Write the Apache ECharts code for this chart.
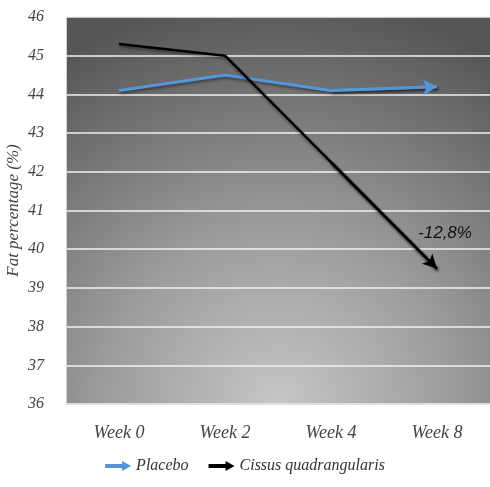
<!DOCTYPE html>
<html><head><meta charset="utf-8">
<script src="https://cdn.jsdelivr.net/npm/echarts@6/dist/echarts.min.js"></script>
<style>html,body{margin:0;padding:0;background:#fff}#c{width:490px;height:487px}</style>
</head><body><div id="c"></div>
<script>
const categories = ['Week 0', 'Week 2', 'Week 4', 'Week 8'];
const placebo = [44.1, 44.5, 44.1, 44.2];
const cissus = [45.3, 45.0, 42.25, 39.5];
const seriesNames = ['Placebo', 'Cissus quadrangularis'];
const annotationText = '-12,8%';
const annotationValue = 40.42;
const yMin = 36, yMax = 46, yStep = 1;

const FONT = '"Liberation Serif", serif';
const arrowIcon = 'path://M0,3 L17,3 L17,0 L26,5 L17,10 L17,7 L0,7 Z';
const chart = echarts.init(document.getElementById('c'));
const shadow = {shadowBlur: 3, shadowColor: 'rgba(0,0,0,0.45)', shadowOffsetX: 1, shadowOffsetY: 2};

function lastSegment(vals) {
  const n = vals.length;
  return [[{coord: [categories[n-2], vals[n-2]]}, {coord: [categories[n-1], vals[n-1]]}]];
}

chart.setOption({
  animation: false,
  grid: {left: 66, right: 0, top: 17, bottom: 83, show: true, borderWidth: 0,
    outerBoundsMode: 'none', containLabel: false,
    backgroundColor: {type: 'radial', x: 0.5, y: 1.0, r: 1.05,
      colorStops: [{offset: 0, color: '#c6c6c6'}, {offset: 0.45, color: '#9a9a9a'}, {offset: 1, color: '#565656'}]}},
  legend: {bottom: 8, left: 'center', itemGap: 20, itemWidth: 26, itemHeight: 10,
    textStyle: {fontFamily: FONT, fontStyle: 'italic', fontSize: 16, color: '#333'},
    data: [{name: seriesNames[0], icon: arrowIcon}, {name: seriesNames[1], icon: arrowIcon}]},
  xAxis: {type: 'category', data: categories, boundaryGap: true,
    axisLine: {show: true, lineStyle: {color: '#dcdcdc', width: 1.5}},
    axisTick: {show: false},
    axisLabel: {margin: 20, fontFamily: FONT, fontStyle: 'italic', fontSize: 18, color: '#444'}},
  yAxis: {type: 'value', min: yMin, max: yMax, interval: yStep,
    name: 'Fat percentage (%)', nameLocation: 'middle', nameGap: 44, nameMoveOverlap: false,
    nameTextStyle: {fontFamily: FONT, fontStyle: 'italic', fontSize: 17, color: '#444'},
    axisLine: {show: true, lineStyle: {color: '#d0d0d0', width: 1}},
    axisTick: {show: false},
    axisLabel: {margin: 22, fontFamily: FONT, fontStyle: 'italic', fontSize: 16, color: '#444'},
    splitLine: {lineStyle: {color: '#f2f2f2', width: 1.5}}},
  series: [
    {name: seriesNames[0], type: 'line', data: placebo, showSymbol: false, color: '#5596d8',
      lineStyle: Object.assign({width: 3, color: '#5596d8'}, shadow),
      markLine: {silent: true, symbol: ['none', 'arrow'], symbolSize: [12, 14], label: {show: false},
        lineStyle: Object.assign({type: 'solid', width: 3, color: '#5596d8'}, shadow), data: lastSegment(placebo)}},
    {name: seriesNames[1], type: 'line', data: cissus, showSymbol: false, color: '#000',
      lineStyle: Object.assign({width: 2.5, color: '#000'}, shadow),
      markLine: {silent: true, symbol: ['none', 'arrow'], symbolSize: [11, 14], label: {show: false},
        lineStyle: Object.assign({type: 'solid', width: 2.5, color: '#000'}, shadow), data: lastSegment(cissus)},
      markPoint: {silent: true, symbol: 'circle', symbolSize: 0,
        label: {show: true, formatter: annotationText, offset: [8, 0], fontFamily: '"Liberation Sans", sans-serif',
          fontStyle: 'italic', fontSize: 17, color: '#111'},
        data: [{coord: [categories[3], annotationValue]}]}}
  ]
});
</script></body></html>
